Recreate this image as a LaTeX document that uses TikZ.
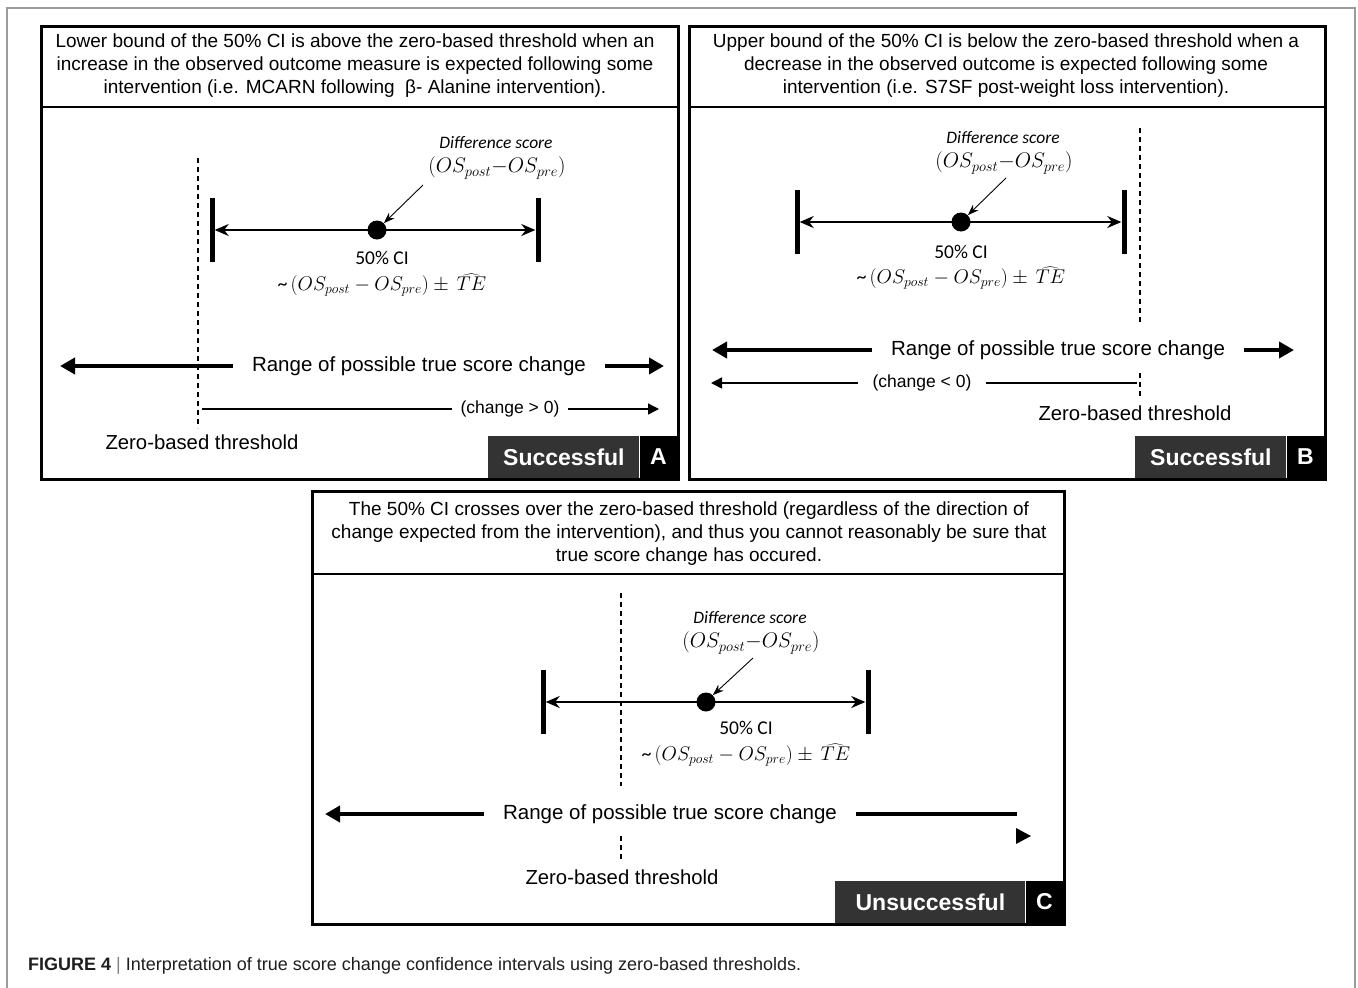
\documentclass[tikz,border=0pt]{standalone}
\usepackage{graphicx}
\usepackage{fontspec}
\setmainfont{Liberation Sans}
\newfontfamily\calibri{Carlito}
\usetikzlibrary{arrows.meta,positioning,calc}
\definecolor{tagDark}{RGB}{51,51,51}
\definecolor{frameGray}{RGB}{155,155,155}
\definecolor{capGray}{RGB}{30,30,30}
\newcommand{\dscore}{\scalebox{1.22}{$(OS_{post}{-}OS_{pre})$}}
\newcommand{\ciform}{{\calibri\fontsize{20}{20}\selectfont\textasciitilde}\,\scalebox{1.15}{$(OS_{post}-OS_{pre})\pm\,\widehat{TE}$}}

\begin{document}
\begin{tikzpicture}[x=1pt, y=-1pt,
  panel/.style={draw=black, line width=2.6pt, anchor=north west, inner sep=0pt},
  headsep/.style={line width=1.1pt},
  head/.style={align=center, font=\fontsize{19}{23}\selectfont, inner sep=0pt},
  tagbox/.style={fill=tagDark, text=white, font=\fontsize{23}{25}\selectfont\bfseries, minimum height=42pt, minimum width=151pt, inner sep=0pt},
  letter/.style={fill=black, text=white, font=\fontsize{23}{25}\selectfont\bfseries, minimum height=42pt, minimum width=37pt, anchor=south east, inner sep=0pt},
  cibar/.style={fill=black, minimum width=5pt, minimum height=64pt, inner sep=0pt},
  dot/.style={circle, fill=black, minimum size=19pt, inner sep=0pt},
  ciarr/.style={{Stealth[length=14pt,width=12pt]}-{Stealth[length=14pt,width=12pt]}, line width=2pt},
  pointer/.style={-{Stealth[length=11pt,width=8pt]}, line width=0.9pt},
  zero/.style={dash pattern=on 5pt off 4pt, line width=2pt},
  bigline/.style={line width=4.5pt},
  bigarr/.style={bigline, -{Triangle[length=15pt,width=16pt]}},
  thinline/.style={line width=1.5pt},
  thinarr/.style={thinline, -{Triangle[length=11pt,width=11pt]}},
  diff/.style={font=\calibri\fontsize{17.5}{19}\selectfont\itshape, inner sep=0pt},
  form/.style={font=\fontsize{18}{20}\selectfont, inner sep=0pt},
  cilab/.style={font=\calibri\fontsize{19.5}{21}\selectfont, inner sep=0pt},
  rangelab/.style={font=\fontsize{20.5}{23}\selectfont, inner xsep=19pt, inner ysep=0pt},
  chg/.style={font=\fontsize{17.5}{20}\selectfont, inner xsep=8pt, inner ysep=0pt},
  zlab/.style={font=\fontsize{20.3}{23}\selectfont, inner sep=0pt}
]
\useasboundingbox (0,0) rectangle (1358,988);

% outer frame
\draw[frameGray, line width=1.3pt] (7,988) -- (7,8) -- (1355,8) -- (1355,988);

% Panel A
\node[panel, minimum width=637pt, minimum height=453pt] (boxA) at (40,25) {};
\draw[headsep] ($(boxA.north west)+(0,82)$) -- ($(boxA.north east)+(0,82)$);
\node[head] (headA) at (355,66) {Lower bound of the 50\% CI is above the zero-based threshold when an\\increase in the observed outcome measure is expected following some\\intervention (i.e. MCARN following \ β- Alanine intervention).};
\coordinate (zA1) at (198,158);
\coordinate (zA2) at (198,428);
\draw[zero] (zA1) -- (zA2);
\node[cibar] (loA) at (212,230) {};
\node[cibar] (hiA) at (538,230) {};
\draw[ciarr] (loA.east) -- (hiA.west);
\node[dot] (ptA) at (377,230) {};
\node[diff] (dsA) at (496,143) {Difference score};
\node[form] (fmA) at (497,168) {\dscore};
\coordinate (pA) at (423,185);
\draw[pointer] (pA) -- (ptA.north east);
\node[cilab] (ciA) at (382,258) {50\% CI};
\node[form] (teA) at (382,285) {\ciform};
\node[rangelab] (rgA) at (419,366) {Range of possible true score change};
\coordinate (rgAl) at (60,366);
\coordinate (rgAr) at (664,366);
\draw[bigarr] (rgA.west) -- (rgAl);
\draw[bigarr] (rgA.east) -- (rgAr);
\node[chg] (chA) at (510,409) {(change > 0)};
\coordinate (chAl) at (202,409);
\coordinate (chAr) at (659,409);
\draw[thinline] (chAl) -- (chA.west);
\draw[thinarr] (chA.east) -- (chAr);
\node[zlab] (zlA) at (202,442) {Zero-based threshold};
\node[letter] (letA) at (677,478) {A};
\node[tagbox, left=0pt of letA] (tagA) {Successful};

% Panel B
\node[panel, minimum width=636pt, minimum height=453pt] (boxB) at (688,25) {};
\draw[headsep] ($(boxB.north west)+(0,82)$) -- ($(boxB.north east)+(0,82)$);
\node[head] (headB) at (1006,66) {Upper bound of the 50\% CI is below the zero-based threshold when a\\decrease in the observed outcome is expected following some\\intervention (i.e. S7SF post-weight loss intervention).};
\coordinate (zB1) at (1140,128);
\coordinate (zB2) at (1140,323);
\coordinate (zB3) at (1140,373);
\coordinate (zB4) at (1140,397);
\draw[zero] (zB1) -- (zB2);
\draw[zero] (zB3) -- (zB4);
\node[cibar] (loB) at (797,222) {};
\node[cibar] (hiB) at (1124,222) {};
\draw[ciarr] (loB.east) -- (hiB.west);
\node[dot] (ptB) at (961,222) {};
\node[diff] (dsB) at (1003,138) {Difference score};
\node[form] (fmB) at (1004,163) {\dscore};
\coordinate (pB) at (1006,178);
\draw[pointer] (pB) -- (ptB.north east);
\node[cilab] (ciB) at (961,252) {50\% CI};
\node[form] (teB) at (961,278) {\ciform};
\node[rangelab] (rgB) at (1058,350) {Range of possible true score change};
\coordinate (rgBl) at (712,350);
\coordinate (rgBr) at (1294,350);
\draw[bigarr] (rgB.west) -- (rgBl);
\draw[bigarr] (rgB.east) -- (rgBr);
\node[chg, inner xsep=14pt] (chB) at (922,383) {(change < 0)};
\coordinate (chBl) at (711,383);
\coordinate (chBr) at (1137,383);
\draw[thinarr] (chB.west) -- (chBl);
\draw[thinline] (chB.east) -- (chBr);
\node[zlab] (zlB) at (1135,413) {Zero-based threshold};
\node[letter] (letB) at (1324,478) {B};
\node[tagbox, left=0pt of letB] (tagB) {Successful};

% Panel C
\node[panel, minimum width=752pt, minimum height=433pt] (boxC) at (311,490) {};
\draw[headsep] ($(boxC.north west)+(0,84)$) -- ($(boxC.north east)+(0,84)$);
\node[head] (headC) at (689,534) {The 50\% CI crosses over the zero-based threshold (regardless of the direction of\\change expected from the intervention), and thus you cannot reasonably be sure that\\true score change has occured.};
\coordinate (zC1) at (621,593);
\coordinate (zC2) at (621,786);
\coordinate (zC3) at (621,836);
\coordinate (zC4) at (621,860);
\draw[zero] (zC1) -- (zC2);
\draw[zero] (zC3) -- (zC4);
\node[cibar] (loC) at (543,702) {};
\node[cibar] (hiC) at (868,702) {};
\draw[ciarr] (loC.east) -- (hiC.west);
\node[dot] (ptC) at (706,702) {};
\node[diff] (dsC) at (750,618) {Difference score};
\node[form] (fmC) at (751,643) {\dscore};
\coordinate (pC) at (753,658);
\draw[pointer] (pC) -- (ptC.north east);
\node[cilab] (ciC) at (746,728) {50\% CI};
\node[form] (teC) at (746,755) {\ciform};
\node[rangelab] (rgC) at (670,814) {Range of possible true score change};
\coordinate (rgCl) at (325,814);
\coordinate (rgCr) at (1017,814);
\draw[bigarr] (rgC.west) -- (rgCl);
\draw[bigline] (rgC.east) -- (rgCr);
\fill (1016,828) -- (1031,836) -- (1016,844) -- cycle;
\node[zlab] (zlC) at (622,877) {Zero-based threshold};
\node[letter] (letC) at (1063,923) {C};
\node[tagbox, minimum width=190pt, left=0pt of letC] (tagC) {Unsuccessful};

% caption
\node[anchor=west, inner sep=0pt, font=\fontsize{18}{20}\selectfont, text=capGray] (cap) at (28,966) {\textbf{FIGURE 4} {\color{gray}|} Interpretation of true score change confidence intervals using zero-based thresholds.};

\end{tikzpicture}
\end{document}
